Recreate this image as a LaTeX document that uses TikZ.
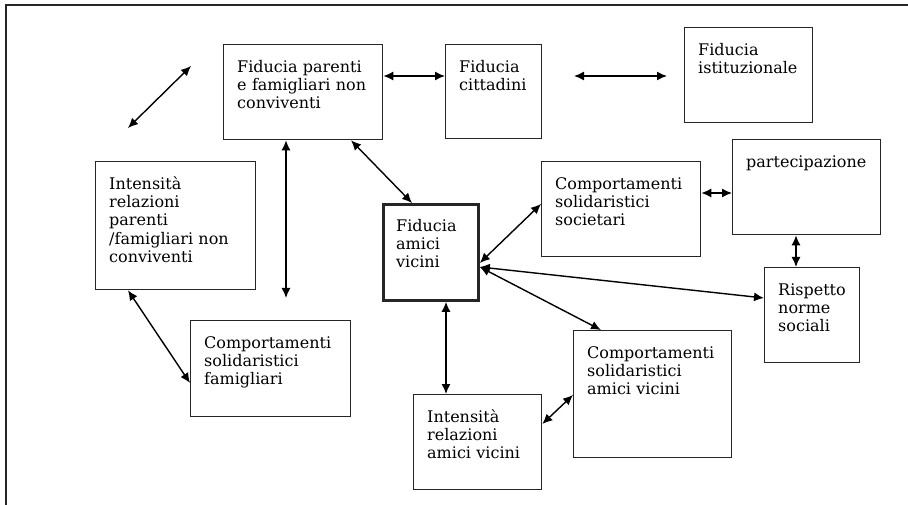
\documentclass[tikz,border=0pt]{standalone}
\usepackage{fontspec}
\setmainfont{DejaVu Serif}
\usepackage{tikz}
\usetikzlibrary{calc, shapes, arrows.meta}

\begin{document}
\begin{tikzpicture}[x=1pt,y=-1pt]
\tikzstyle{line} = [draw, line width=1.4pt, {Latex[length=10pt,width=9pt]}-{Latex[length=10pt,width=9pt]}]
\tikzstyle{box}=[draw=black!85,line width=1.3pt,inner sep=0pt,anchor=north west]
\tikzstyle{txt}=[anchor=north west,align=left,text width=150pt,inner sep=0pt,text height=12pt,xshift=14pt,yshift=-16pt,font=\fontsize{16}{18.3}\selectfont]
\useasboundingbox (0,0) rectangle (908,505);
\draw[black!85,line width=1.4pt] (908,5) -- (6,5) -- (6,505);
% boxes
\node[box,minimum width=159,minimum height=95,label={[txt]north west:Fiducia parenti\\e famigliari non\\conviventi}] (F_par) at (223,44) {};
\node[box,minimum width=96,minimum height=94,label={[txt]north west:Fiducia\\cittadini}] (F_cit) at (445,44) {};
\node[box,minimum width=128,minimum height=95,label={[txt]north west:Fiducia\\istituzionale}] (F_ist) at (684,27) {};
\node[box,minimum width=160,minimum height=128,label={[txt]north west:Intensità\\relazioni\\parenti\\/famigliari non\\conviventi}] (I_par) at (95,161) {};
\node[box,line width=2.8pt,minimum width=95,minimum height=96,label={[txt]north west:Fiducia\\amici\\vicini}] (F_ami) at (382,203) {};
\node[box,minimum width=159,minimum height=95,label={[txt]north west:Comportamenti\\solidaristici\\societari}] (C_soc) at (541,161) {};
\node[box,minimum width=148,minimum height=95,label={[txt]north west:partecipazione}] (Part) at (732,139) {};
\node[box,minimum width=95,minimum height=95,label={[txt]north west:Rispetto\\norme\\sociali}] (Risp) at (764,267) {};
\node[box,minimum width=160,minimum height=96,label={[txt]north west:Comportamenti\\solidaristici\\famigliari}] (C_fam) at (190,320) {};
\node[box,minimum width=158,minimum height=127,label={[txt]north west:Comportamenti\\solidaristici\\amici vicini}] (C_ami) at (573,330) {};
\node[box,minimum width=128,minimum height=95,label={[txt]north west:Intensità\\relazioni\\amici vicini}] (I_ami) at (413,394) {};
% free ends
\coordinate (f_1) at (128,128);
\coordinate (f_2) at (191,66);
\coordinate (f_3) at (574,76);
\coordinate (f_4) at (667,76);
\coordinate (f_5) at (286,298);
% arrows
\path [line] (f_1) -- (f_2);
\path [line] (f_3) -- (f_4);
\path [line] ([yshift=-32pt]F_par.north east) -- ([yshift=-32pt]F_cit.north west);
\path [line] ([xshift=63pt]F_par.south west) -- (f_5);
\path [line] ([xshift=128pt]F_par.south west) -- ([xshift=30pt]F_ami.north west);
\path [line] ([xshift=33pt]I_par.south west) -- ([yshift=-63pt]C_fam.north west);
\path [line] ([yshift=-60pt]F_ami.north east) -- ([yshift=-43pt]C_soc.north west);
\path [line] ([yshift=-64pt]F_ami.north east) -- ([yshift=-31pt]Risp.north west);
\path [line] ([yshift=-64pt]F_ami.north east) -- ([xshift=28pt]C_ami.north west);
\path [line] ([yshift=-32pt]C_soc.north east) -- ([yshift=-54pt]Part.north west);
\path [line] ([xshift=64pt]Part.south west) -- ([xshift=32pt]Risp.north west);
\path [line] ([xshift=64pt]F_ami.south west) -- ([xshift=33pt]I_ami.north west);
\path [line] ([yshift=-30pt]I_ami.north east) -- ([yshift=-65pt]C_ami.north west);

\end{tikzpicture}
\end{document}
